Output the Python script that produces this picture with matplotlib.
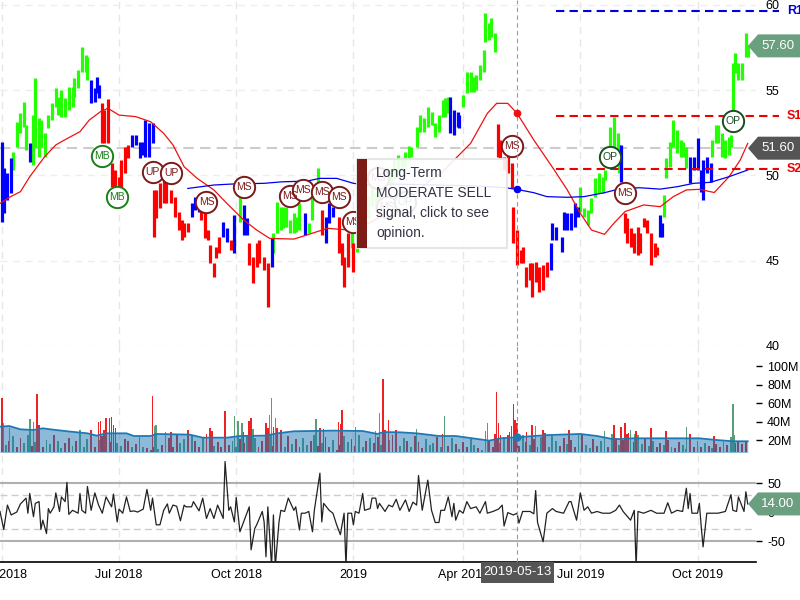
import matplotlib
matplotlib.use('Agg')
import matplotlib.pyplot as plt
from matplotlib.patches import Polygon, Rectangle

plt.rcParams['font.family'] = ['Liberation Sans', 'DejaVu Sans']

# sessions are trading days counted from the left edge of the chart
green_day = [7,9,11,13,14,18,19,21,22,24,26,28,30,31,33,35,37,39,40,42,44,46,47,
             129,147,149,151,152,154,156,158,159,161,166,168,171,189,192,
             194,196,198,200,202,204,206,208,210,212,214,216,218,220,
             221,224,226,228,230,232,234,236,238,239,241,
             249,251,253,255,256,258,260,261,263,264,266,
             312,314,316,318,320,322,324,325,328,330,332,333,
             357,358,360,362,364,366,367,369,
             383,385,386,388,390,392,393,394,395,397,399,401,402]
green_high = [51.39,53.15,53.64,54.33,52.96,53.54,55.70,53.35,53.25,52.47,53.54,54.23,55.11,54.62,55.01,54.52,55.21,55.21,55.70,56.18,57.55,57.06,56.97,
              48.76,46.60,48.46,48.17,48.17,48.17,47.39,47.78,47.58,48.36,47.19,48.76,50.42,46.60,46.60,
              47.2,48.0,48.8,49.3,49.0,49.8,50.2,50.5,50.2,50.9,51.2,51.0,51.4,51.7,
              51.69,52.86,53.54,53.35,54.03,53.74,53.06,53.54,54.42,54.52,54.62,
              54.72,56.09,56.09,55.79,55.89,56.48,57.36,59.51,58.92,59.21,58.33,
              49.34,48.07,47.97,48.66,49.83,50.12,49.93,50.32,52.86,53.45,52.47,51.79,
              48.85,51.00,51.98,53.25,52.66,52.08,51.98,51.69,
              52.08,52.96,52.96,52.47,52.08,52.27,52.37,56.58,57.16,56.58,56.58,58.33,57.65]
green_low = [50.32,51.69,52.47,52.86,51.49,50.61,51.69,51.10,51.69,51.10,52.76,53.25,54.03,53.54,53.45,53.45,53.84,54.03,54.62,55.11,56.09,56.09,55.60,
             47.29,45.43,46.60,46.80,46.90,47.00,46.60,46.60,46.70,46.80,46.60,47.39,48.76,45.73,45.53,
             46.0,46.7,47.5,48.2,48.0,48.6,49.2,49.5,49.4,49.8,50.2,50.2,50.5,50.9,
             51.10,51.69,52.57,52.57,52.86,52.96,52.27,52.57,53.45,53.45,53.64,
             54.03,54.82,54.91,54.91,55.01,55.60,56.09,57.85,57.94,58.14,57.26,
             47.88,47.58,47.09,47.78,48.76,48.95,48.95,49.73,50.51,51.10,50.91,50.12,
             47.58,49.83,50.51,51.69,51.30,51.10,51.10,50.42,
             51.10,51.88,51.88,51.10,51.00,51.20,51.69,53.84,55.99,55.60,55.60,56.97,56.97]

blue_day = [1,2,4,6,16,49,51,52,53,71,73,75,77,78,80,82,103,105,107,120,122,126,131,133,146,164,175,177,179,
            242,244,246,247,296,297,299,302,303,305,307,309,311,334,355,356,371,373,375,377,378,380,382]
blue_high = [51.98,50.42,50.12,51.00,51.88,55.60,55.11,55.79,55.30,52.37,52.37,51.98,51.98,53.25,53.06,53.10,48.36,48.76,48.56,47.29,46.90,47.68,48.27,47.48,46.31,47.78,47.58,48.36,48.17,
             54.62,53.84,53.74,53.54,46.02,47.19,47.00,46.41,47.88,47.78,47.78,48.36,48.17,51.79,47.68,47.19,51.10,51.10,52.18,50.32,50.91,51.10,50.71]
blue_low = [47.25,47.78,48.56,48.95,50.81,54.23,54.33,54.82,54.52,51.69,51.79,51.00,51.20,51.10,51.10,51.88,47.58,47.97,47.88,46.41,46.12,45.43,46.51,46.51,44.65,46.51,46.02,47.19,47.58,
            52.47,52.37,52.86,52.76,44.45,46.21,46.21,45.53,46.80,46.80,46.80,46.99,47.58,49.64,46.41,46.41,49.54,50.32,50.32,49.05,48.56,50.12,49.64]

red_day = [55,56,58,60,62,64,65,67,69,83,84,86,88,89,92,94,96,98,99,101,108,110,112,113,115,116,118,124,134,136,138,139,142,144,173,182,184,185,187,190,
           268,269,271,273,275,276,278,280,281,283,285,286,288,290,292,294,336,337,339,341,343,344,346,348,350,352,353]
red_high = [54.23,53.84,54.46,50.71,50.32,49.93,50.91,51.69,51.79,49.15,49.15,49.54,49.73,49.73,49.15,48.76,47.88,47.39,47.19,47.19,47.97,47.78,46.80,45.92,44.85,45.82,46.41,46.21,46.02,45.24,46.02,46.21,45.24,44.85,47.97,47.58,46.02,45.24,46.60,46.02,
            53.02,52.08,51.10,51.30,50.71,48.17,46.80,45.63,45.82,44.65,44.85,44.85,44.94,44.65,44.75,44.94,47.78,47.48,46.90,46.60,46.99,46.60,47.48,47.39,46.60,46.02,45.82]
red_low = [51.88,51.88,51.88,49.34,49.34,49.34,49.34,50.12,51.00,46.41,47.48,48.07,48.36,48.36,48.36,47.58,46.80,46.21,46.41,46.70,47.39,46.31,46.21,44.85,44.02,45.14,45.43,45.63,44.75,43.67,44.65,44.85,44.45,42.30,46.51,45.43,44.75,43.48,44.65,44.36,
           51.10,51.00,50.32,50.12,49.24,46.02,44.75,44.85,44.85,43.48,43.87,42.89,43.77,43.18,43.28,44.06,46.60,46.02,45.82,45.43,45.33,45.43,46.99,46.60,44.75,45.24,45.33]

ma_fast_day = [0,5,11,16,24,30,34,43,48,54,58,64,73,81,88,93,99,106,115,122,131,138,145,158,165,176,188,195,205,215,221,230,237,245,253,262,267,273,278,287,298,305,312,318,325,330,336,346,355,362,369,376,384,392,398,402]
ma_fast = [48.36,48.72,49.05,49.93,51.10,51.79,52.04,52.57,53.25,53.74,53.94,53.54,53.45,53.15,52.47,51.79,50.51,49.83,49.15,48.36,47.39,46.80,46.31,46.27,46.51,46.90,46.80,47.0,47.6,48.0,48.7,49.6,50.1,51.0,51.88,53.64,54.23,54.23,53.64,52.08,50.32,49.15,47.78,46.80,46.55,47.19,47.88,48.27,48.17,48.76,49.15,49.19,49.0,49.93,50.91,51.88]
ma_slow_day = [101,115,125,142,152,165,172,181,190,197,210,230,250,263,272,278,287,294,305,314,325,334,344,355,364,373,382,392,402]
ma_slow = [49.24,49.44,49.50,49.54,49.63,49.67,49.83,49.83,49.54,49.44,49.5,49.45,49.4,49.34,49.28,49.18,48.99,48.76,48.72,48.76,48.99,49.24,49.28,49.2,49.34,49.54,49.6,49.93,50.32]

signal_day = [55,63,82,92,111,131,156,163,173,182,190,203,208,218,275,328,336,394]
signal_price = [51.14,48.74,50.2,50.14,48.44,49.32,48.79,49.15,49.03,48.74,47.27,49.85,48.15,48.44,51.73,51.08,48.97,53.19]
signal_text = ['MB','MB','UP','UP','MS','MS','MS','MS','MS','MS','MS','MS','MS','OP','MS','OP','MS','OP']

r1, s1, s2 = 59.65, 53.49, 50.38
last_price = 57.60
mid_price = 51.60
cursor_day = 278

# volume, in millions, one bar for every second session
base_volume = [21,15,19,24,13,22,17,26,14,18,23,12,20,16,25,19,11,17,22,14,
               19,26,13,21,16,12,20,24,15,18,10,17,14,21,19,12,16,23,13,11,
               9,12,10,15,18,22,13,26,17,21,14,24,19,12,23,16,20,14,18,13,
               11,15,19,13,21,17,24,15,22,12,19,16,25,14,20,18,12,24,16,21,
               13,22,15,19,26,14,17,23,12,20,9,15,24,18,21,14,26,13,19,22,
               17,23,15,12,20,25,16,14,22,19,13,24,18,11,21,15,17,23,12,19,
               14,22,16,10,18,13,21,15,11,9,14,19,12,22,17,13,24,16,20,14,
               25,18,15,21,13,23,17,12,24,19,14,22,16,20,13,18,25,15,11,21,
               14,19,23,12,17,22,15,20,13,24,18,11,16,21,14,19,12,17,15,20,
               13,11,18,15,10,16,13,19,12,17,14,11,16,13,18,15,14,17,19,16,18]
base_side = ('rgrgrrggrgrrggrggrrg' 'rgggrrgrgrrggrrgrggr' 'rrgrgrrrggrgrrgrggrr'
             'grggrrgrgrrggrrrgrgr' 'rggrgrgrrgrrggrrggrg' 'rrgrgrrggrgrrrgggrgr'
             'rgrgrrggrggrrrgrggrr' 'grgrrgrgggrrgrrgrggr' 'rggrrrgrggrrgrggrrgr'
             'grrggrrgrgrgrrgrrrrrr')
spike_day = [1,2,5,16,18,20,21,43,49,53,54,56,57,59,60,61,62,82,83,84,89,92,101,111,113,114,121,126,128,130,131,134,135,136,
             143,144,145,146,147,148,149,151,170,172,174,182,183,184,191,202,204,206,207,209,213,224,238,239,261,262,266,267,268,269,271,273,274,275,276,277,278,283,286,288,292,293,
             306,311,325,329,330,334,336,337,338,339,341,342,343,350,358,369,371,384,393,394,395]
spike_volume = [66,39,33,42.4,40,70,36,31,31,40,41,31,43.5,44,44.6,36,33,67.6,35,36,29,29,31,27,33,30,52,46,41,39,28.4,41,43.5,32,
                38,33,47,66,34.5,43.5,33,31,42.4,33,32,40,37.4,52.5,34.5,29.5,49,85.6,31,41.7,31,32,27,46,30,38,27,71.6,38,25.5,23,26,29,35,59,42,39,28.4,36,35,31,28,
                31,27,30,27,36,34,38,27,28,31,27,29.5,25.5,33,30,34,27,24.4,23,58.6,26]
spike_side = ('rggggrrgrrrrrrrrrrgggrrrrrrgggrrrg'
              'rrggrgrrgrrrrrgggrrrrgrgggrrrrgrrrrrrrrgrrr'
              'gggrrrrrggrgrrgrrgggg')
vol_avg_day = [0,5,11,18,23,30,38,47,52,57,68,72,81,84,102,109,122,129,143,149,158,179,195,203,206,215,224,236,245,254,263,269,278,287,296,312,321,330,340,376,385,394,402]
vol_avg = [34.5,35.2,31.6,30.9,32.7,30.9,29.1,27.3,24.8,27.3,27.3,24.4,24.4,26.6,25.9,22.6,22.6,24.4,24.8,27.3,29.5,30.2,29.8,26.6,28.7,28.4,27.3,24.4,24.4,21.9,19.4,21.9,23,24.4,25.5,26.6,24.4,20.8,21.9,21.9,20.1,18.7,18.7]

# indicator line
ind_day = [0,2,4,6,9,11,14,15,16,18,19,21,22,23,25,26,27,29,30,32,33,35,36,37,39,42,43,44,46,47,49,51,53,55,57,60,61,63,64,66,68,70,72,74,77,79,81,82,84,86,88,90,91,93,95,97,99,100,103,104,107,109,111,113,115,117,120,121,123,124,126,127,129,132,134,135,137,138,141,142,143,144,146,147,148,150,151,153,155,158,159,161,162,164,166,168,169,172,173,174,177,179,181,183,185,186,187,189,190,191,193,195,196,199,200,202,203,204,207,209,211,213,215,
           218,220,222,224,225,227,230,232,234,236,237,239,241,243,244,245,247,249,251,253,256,258,261,262,265,268,270,271,273,276,278,279,281,285,287,288,289,292,294,297,299,303,306,307,310,312,314,316,318,321,324,328,331,333,335,339,341,342,343,346,350,353,357,359,361,364,367,369,370,371,372,375,376,377,378,380,382,386,390,393,394,396,397,400,401,402]
ind_value = [1,-30,12,-5,0,14,24,-2,32,-8,15,18,-30,-14,-37,6,-2,9,33,1,26,18,51,-4,3,-2,32,3,-2,44,3,33,12,-2,26,9,31,-17,5,-2,26,1,2,0,5,39,3,24,-22,-22,3,14,-2,12,10,-15,12,9,9,18,2,24,-11,6,-11,12,-11,87,3,9,-17,25,-34,-8,9,-65,-28,-22,1,-17,-77,9,-94,-5,-94,-17,3,1,24,3,9,-31,-2,-2,1,-34,3,67,-17,15,3,-2,-22,-39,-2,-94,-2,-2,-22,1,-2,32,3,6,24,24,6,15,1,12,9,22,3,
             21,1,17,12,63,3,55,3,-18,-18,3,3,26,-8,15,-14,3,-2,18,6,9,-2,18,-2,1,5,12,-24,-1,-5,-2,-19,1,1,-3,37,-18,-51,-2,6,1,-2,18,18,-14,33,3,9,-2,1,-2,-2,3,12,1,-14,3,-94,1,-2,3,-2,-2,16,-2,3,1,41,6,32,-2,-2,15,-25,-60,-2,-2,-2,1,30,3,1,26,1,35,14]

tick_day = [1,64,127,190,249,312,375]
tick_text = ['Apr 2018','Jul 2018','Oct 2018','2019','Apr 2019','Jul 2019','Oct 2019']

def pane(top, bottom):
    # axes from pixel rows of the 800x600 canvas
    return fig.add_axes([0, 1 - bottom / 600, 756 / 800, (bottom - top) / 600])

fig = plt.figure(figsize=(8, 6), dpi=100)
ax = pane(0, 346)
vol = pane(346, 452)
ind = pane(452, 562)

for a in (ax, vol, ind):
    a.set_xlim(0, 406.45)
    a.patch.set_alpha(0)
    for side in ('top', 'left', 'right', 'bottom'):
        a.spines[side].set_visible(False)
    a.yaxis.tick_right()
    a.set_xticks(tick_day)
    a.grid(axis='x', color='#e6e6e6', lw=1, ls=(0, (5, 4)))
    a.axvline(cursor_day, color='#999999', lw=0.8, ls=(0, (4, 3)), zorder=6)
    a.set_axisbelow(True)
    a.tick_params(axis='x', length=0, labelbottom=False)
    a.tick_params(axis='y', labelsize=9)

# price pane
ax.set_ylim(40, 60.29)
ax.set_yticks([40, 45, 50, 55, 60])
ax.tick_params(axis='y', length=0, pad=7)
ax.grid(axis='y', color='#eeeeee', lw=1, ls=(0, (5, 4)))
ax.axhline(mid_price, color='#cccccc', lw=1.5, ls=(0, (5, 3)), xmax=748 / 756, zorder=1)
bar_w = 2.3
ax.vlines(green_day, green_low, green_high, color='#22ff00', lw=bar_w, zorder=2)
ax.vlines(blue_day, blue_low, blue_high, color='#0000ff', lw=bar_w, zorder=2)
ax.vlines(red_day, red_low, red_high, color='#ff0000', lw=bar_w, zorder=2)
ax.plot(ma_fast_day, ma_fast, color='#ee1111', lw=0.9, zorder=3)
ax.plot(ma_slow_day, ma_slow, color='#0000ee', lw=0.9, zorder=3)
ax.plot([cursor_day], [53.64], 'o', color='#ee1111', ms=4.5, zorder=7)
ax.plot([cursor_day], [49.18], 'o', color='#0000ee', ms=4.5, zorder=7)

for level, colour, name in ((r1, '#0000dd', 'R1'), (s1, '#ee0000', 'S1'), (s2, '#ee0000', 'S2')):
    ax.hlines(level, 299, 419, color=colour, lw=1.5, ls=(0, (4, 2.5)), clip_on=False, zorder=3)
    ax.text(423, level, name, color=colour, fontsize=9, fontweight='bold', va='center', clip_on=False)

for d, p, t in zip(signal_day, signal_price, signal_text):
    if t == 'MB':
        edge = '#1a7f1a'
    elif t == 'OP':
        edge = '#1a4d22'
    else:
        edge = '#7a1a1a'
    ax.scatter([d], [p], s=235, facecolor='white', edgecolor=edge, lw=1.4, zorder=4)
    ax.text(d, p, t, color=edge, fontsize=7.5, ha='center', va='center', zorder=5)

# volume pane
vol.set_ylim(7.1, 121.8)
vol.set_yticks([20, 40, 60, 80, 100])
vol.set_yticklabels(['20M', '40M', '60M', '80M', '100M'])
vol.tick_params(axis='y', length=4, width=1, pad=4)
base_day = list(range(1, 2 * len(base_volume), 2))
base_cols = ['#d62222' if c == 'r' else '#4f9e7a' for c in base_side]
vol.bar(base_day, base_volume, width=1.0, color=base_cols, zorder=2)
spike_cols = ['#ee2222' if c == 'r' else '#5a9e78' for c in spike_side]
vol.bar(spike_day, spike_volume, width=0.8, color=spike_cols, zorder=2)
vol.fill_between(vol_avg_day, 0, vol_avg, color='#1f77b4', alpha=0.5, lw=0, zorder=3)
vol.plot(vol_avg_day, vol_avg, color='#1f77b4', lw=1.3, zorder=4)
vol.plot([cursor_day], [23], 'o', color='#1f77b4', ms=5, zorder=7)

# indicator pane
ind.set_ylim(-86, 103.4)
ind.set_yticks([-50, 0, 50])
ind.set_yticklabels(['-50', '0', '50'])
ind.tick_params(axis='y', length=4, width=1, pad=4)
ind.spines['bottom'].set_visible(True)
ind.spines['bottom'].set_color('black')
ind.spines['bottom'].set_linewidth(1.2)
for v in (50, -50):
    ind.axhline(v, color='#b0b0b0', lw=1.5, zorder=1)
for v in (30, -30):
    ind.axhline(v, color='#cccccc', lw=1, ls=(0, (5, 3)), zorder=1)
ind.plot(ind_day, ind_value, color='#222222', lw=0.9, zorder=3)
ind.tick_params(axis='x', labelbottom=True, pad=5, labelsize=9)
ind.set_xticklabels(tick_text)

# overlays are placed in canvas pixels, y measured from the top
def to_fig(x, y):
    return (x / 800, 1 - y / 600)

def box(x0, y0, x1, y1, **kw):
    r = Rectangle(to_fig(x0, y1), (x1 - x0) / 800, (y1 - y0) / 600, transform=fig.transFigure, **kw)
    fig.add_artist(r)

def tag(pane_ax, value, colour):
    fig.canvas.draw()
    y = 600 - pane_ax.transData.transform((0, value))[1]
    pts = [to_fig(748, y), to_fig(758, y - 11.5), to_fig(800, y - 11.5), to_fig(800, y + 11.5), to_fig(758, y + 11.5)]
    fig.add_artist(Polygon(pts, closed=True, transform=fig.transFigure, facecolor=colour, edgecolor='none', zorder=12))
    fx, fy = to_fig(778, y)
    fig.text(fx, fy, '%.2f' % value, color='white', fontsize=9.5, ha='center', va='center', zorder=13)

tag(ax, last_price, '#6a9f80')
tag(ax, mid_price, '#555555')
tag(ind, ind_value[-1], '#6a9f80')

# tooltip
box(357, 159, 507, 248, facecolor='white', edgecolor='#e4e4e4', lw=1.5, alpha=0.9, zorder=10)
box(357, 159, 367, 248, facecolor='#7b1c16', edgecolor='none', zorder=11)
for i, line in enumerate(['Long-Term', 'MODERATE SELL', 'signal, click to see', 'opinion.']):
    fx, fy = to_fig(376, 173 + 20 * i)
    fig.text(fx, fy, line, color='#333344', fontsize=10, ha='left', va='center', zorder=12)

# date label under the cursor
box(481, 562, 554, 583, facecolor='#555555', edgecolor='none', zorder=10)
fx, fy = to_fig(517.5, 572)
fig.text(fx, fy, '2019-05-13', color='white', fontsize=9.5, ha='center', va='center', zorder=11)

print(len(base_volume), len(base_side), len(spike_day), len(spike_volume), len(spike_side))
fig.savefig('out.png', dpi=100)
